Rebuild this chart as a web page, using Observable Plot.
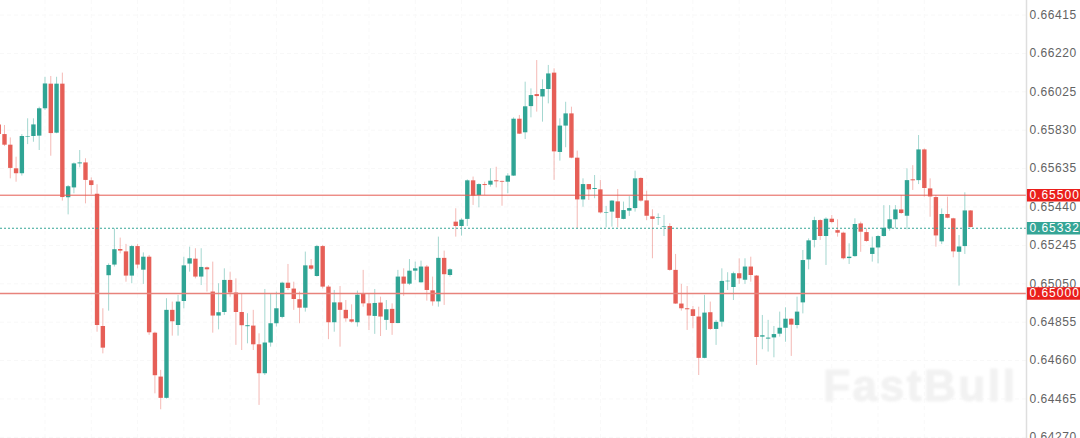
<!DOCTYPE html>
<html>
<head>
<meta charset="utf-8">
<script src="https://cdn.jsdelivr.net/npm/d3@7"></script>
<script src="https://cdn.jsdelivr.net/npm/@observablehq/plot@0.6"></script>
<style>
html,body{margin:0;padding:0;background:#fff;}
.wm text{letter-spacing:2.6px;filter:blur(1.2px);}
.tag text{letter-spacing:1px;}
</style>
</head>
<body>
<div id="chart"></div>
<script>
const firstIndex = -1;
const opens = [
.65857,.65808,.65754,.65634,.65609,.65795,.65798,.65800,.65939,.66064,
.65815,.66064,.65487,.65537,.65659,.65664,.65573,.65505,.64833,.65091,
.65145,.65224,.65212,.65089,.65239,.65119,.65185,.64799,.64576,.64468,
.64915,.64838,.64960,.65150,.65175,.65084,.65131,.65008,.64886,.64904,
.65067,.65003,.64904,.64832,.64835,.64740,.64593,.64749,.64847,.64879,
.65053,.65023,.64969,.64926,.65141,.65087,.65239,.65033,.64852,.64953,
.64915,.64867,.64852,.64999,.64948,.64884,.64952,.64864,.64920,.64848,
.65084,.65048,.65114,.65055,.65135,.65014,.64958,.65179,.65092,.65363,
.65341,.65377,.65573,.65498,.65554,.65551,.65573,.65570,.65566,.65597,
.65886,.65817,.65950,.66011,.65999,.66037,.66120,.65717,.65851,.65913,
.65688,.65476,.65554,.65529,.65527,.65409,.65414,.65466,.65377,.65419,
.65432,.65585,.65471,.65390,.65382,.65338,.65341,.65118,.64947,.64923,
.64918,.64881,.64671,.64903,.64818,.64855,.65060,.65031,.65101,.65068,
.65135,.65089,.64779,.64769,.64775,.64794,.64824,.64870,.64838,.64953,
.65171,.65270,.65371,.65290,.65378,.65320,.65307,.65178,.65188,.65354,
.65310,.65199,.65232,.65290,.65329,.65375,.65425,.65393,.65578,.65574,
.65730,.65532,.65488,.65263,.65402,.65380,.65210,.65239,.65420];
const closes = [
.65808,.65754,.65636,.65609,.65798,.65798,.65857,.65939,.66065,.65813,
.66064,.65488,.65543,.65659,.65664,.65575,.65549,.64838,.64723,.65143,
.65223,.65216,.65089,.65239,.65145,.65185,.64801,.64583,.64468,.64915,
.64857,.64957,.65141,.65177,.65084,.65133,.65121,.64886,.64903,.65067,
.65003,.64904,.64837,.64837,.64740,.64593,.64749,.64847,.64923,.65053,
.65026,.64970,.64926,.65141,.65124,.65239,.65033,.64852,.64953,.64915,
.64872,.64855,.64992,.64948,.64886,.64950,.64881,.64918,.64848,.65084,
.65048,.65114,.65126,.65135,.65016,.64958,.65179,.65096,.65121,.65341,
.65373,.65573,.65495,.65554,.65549,.65571,.65568,.65566,.65597,.65886,
.65810,.65949,.66006,.66001,.66037,.66116,.65720,.65851,.65913,.65688,
.65476,.65554,.65527,.65534,.65410,.65412,.65470,.65382,.65422,.65432,
.65583,.65470,.65393,.65377,.65385,.65341,.65118,.64947,.64923,.64918,
.64884,.64671,.64901,.64818,.64854,.65062,.65063,.65101,.65075,.65135,
.65092,.64777,.64786,.64774,.64792,.64824,.64870,.64840,.64906,.65168,
.65268,.65371,.65290,.65378,.65361,.65307,.65177,.65185,.65351,.65312,
.65265,.65231,.65290,.65332,.65375,.65425,.65407,.65574,.65573,.65730,
.65534,.65491,.65293,.65402,.65383,.65212,.65237,.65420,.65336];
const highs = [
.65862,.65854,.65791,.65693,.65808,.65888,.65888,.65947,.66099,.66103,
.66099,.66120,.65549,.65664,.65727,.65685,.65588,.65553,.64923,.65151,
.65329,.65282,.65250,.65245,.65250,.65207,.65194,.64804,.64610,.64974,
.64957,.64991,.65185,.65236,.65228,.65228,.65135,.65160,.65050,.65126,
.65109,.65075,.64999,.64898,.64915,.64796,.65021,.64999,.65008,.65058,
.65148,.65058,.65008,.65211,.65173,.65245,.65245,.65041,.65016,.65036,
.64965,.64943,.65013,.65118,.64999,.65021,.64982,.64965,.64948,.65118,
.65126,.65173,.65160,.65165,.65143,.65084,.65287,.65216,.65126,.65431,
.65380,.65578,.65592,.65558,.65566,.65634,.65642,.65571,.65609,.65893,
.65905,.66074,.66040,.66184,.66086,.66159,.66142,.65888,.65972,.65947,
.65724,.65583,.65554,.65600,.65575,.65443,.65473,.65529,.65465,.65493,
.65622,.65588,.65520,.65426,.65405,.65397,.65355,.65199,.65047,.65036,
.64935,.64931,.64991,.64957,.64864,.65126,.65106,.65109,.65177,.65177,
.65185,.65092,.64889,.64864,.64833,.64906,.64928,.64872,.64982,.65219,
.65278,.65388,.65375,.65385,.65397,.65375,.65312,.65253,.65380,.65363,
.65329,.65287,.65295,.65447,.65447,.65447,.65498,.65634,.65650,.65803,
.65735,.65583,.65498,.65430,.65490,.65383,.65295,.65512,.65422];
const lows = [
.65803,.65747,.65583,.65566,.65597,.65757,.65769,.65727,.65930,.65698,
.65812,.65470,.65400,.65507,.65639,.65456,.65502,.64804,.64694,.64911,
.65135,.65202,.65058,.65050,.65126,.65047,.64788,.64491,.64410,.64464,
.64784,.64784,.64923,.65109,.65075,.65041,.65008,.64799,.64816,.64889,
.64982,.64737,.64711,.64745,.64711,.64432,.64584,.64728,.64830,.64872,
.65016,.64915,.64847,.64906,.65118,.65084,.65024,.64766,.64804,.64728,
.64855,.64850,.64830,.64931,.64813,.64793,.64782,.64813,.64788,.64847,
.64986,.65041,.65067,.65053,.64962,.64936,.64931,.64940,.65084,.65287,
.65292,.65341,.65448,.65436,.65498,.65541,.65537,.65444,.65507,.65595,
.65808,.65783,.65893,.65922,.65871,.65964,.65575,.65673,.65741,.65685,
.65329,.65439,.65473,.65482,.65405,.65334,.65338,.65334,.65375,.65392,
.65414,.65465,.65371,.65177,.65346,.65290,.65114,.64945,.64911,.64813,
.64821,.64584,.64669,.64813,.64737,.64830,.65016,.64965,.65047,.65047,
.65058,.64635,.64715,.64703,.64674,.64779,.64753,.64681,.64821,.64897,
.65121,.65232,.65270,.65143,.65354,.65287,.65171,.65148,.65185,.65210,
.65261,.65160,.65151,.65287,.65317,.65329,.65402,.65324,.65524,.65554,
.65490,.65388,.65236,.65249,.65380,.65182,.65038,.65199,.65334];

const priceTicks = [.66415,.66220,.66025,.65830,.65635,.65440,.65245,.65050,.64855,.64660,.64465,.64270];
const gridIndices = [7,15,23,31,39,47,55,63,71,79,87,95,103,111,119,127,135,143,151,159];
const levels = [.65500,.65000];
const lastPrice = [.65332];
const watermark = ["FastBull"];

const candles = opens.map((o,k)=>({i:k+firstIndex,o,c:closes[k],h:highs[k],l:lows[k],up:closes[k]>=o}));
const RED="#e5574f", GREEN="#26a08f", TAGRED="#ea1f1c", TAGGREEN="#35a596";
const xDomain=[-0.691,176.66], tagFrom=176.82, tagTo=186.1;
const fmt=d3.format(".5f");

const chart = Plot.plot({
  width:1080,height:438,marginLeft:0,marginRight:54,marginTop:0,marginBottom:0,
  style:{fontFamily:"'Liberation Sans',Arial,sans-serif",fontSize:"12px",background:"#fff",letterSpacing:"0.55px"},
  x:{domain:xDomain,axis:null},
  y:{domain:[.64264,.66489],axis:null},
  marks:[
    Plot.ruleX(gridIndices,{stroke:"#f9f9f9",strokeDasharray:"4 3"}),
    Plot.ruleY(priceTicks,{stroke:"#f8f8f8",strokeDasharray:"4 3"}),
    Plot.text(watermark,{frameAnchor:"bottom-right",dx:-9,dy:-38,text:d=>d,fontSize:44,fontWeight:"bold",fill:"#f2f2f2",stroke:"#f5f5f5",strokeWidth:1.5,className:"wm"}),
    Plot.ruleX(candles,{x:"i",y1:"l",y2:"h",stroke:d=>d.up?GREEN:RED,strokeWidth:1,strokeOpacity:0.42}),
    Plot.ruleX(candles,{x:"i",y1:"o",y2:"c",stroke:d=>d.up?GREEN:RED,strokeWidth:4.4,strokeOpacity:0.95}),
    Plot.ruleY([levels[0]],{x1:xDomain[0],x2:xDomain[1],stroke:"#e55a52",strokeWidth:1}),
    Plot.ruleY([levels[1]],{x1:xDomain[0],x2:xDomain[1],stroke:"#e8837c",strokeWidth:1.5}),
    Plot.ruleY(lastPrice,{x1:xDomain[0],x2:xDomain[1],stroke:"#35a596",strokeWidth:1,strokeDasharray:"2 2"}),
    Plot.frame({anchor:"right",stroke:"#dedede",strokeWidth:1.5}),
    Plot.axisY(priceTicks,{anchor:"right",tickSize:0,tickPadding:3,tickFormat:fmt,label:null,color:"#636363",fill:"#636363"}),
    Plot.ruleY(levels,{x1:tagFrom,x2:tagTo,stroke:TAGRED,strokeWidth:12.5}),
    Plot.text(levels,{x:tagFrom,y:d=>d,text:fmt,textAnchor:"start",dx:2,fill:"#fff",fontWeight:500,className:"tag"}),
    Plot.ruleY(lastPrice,{x1:tagFrom,x2:tagTo,stroke:TAGGREEN,strokeWidth:12.5}),
    Plot.text(lastPrice,{x:tagFrom,y:d=>d,text:fmt,textAnchor:"start",dx:2,fill:"#fff",fontWeight:500,className:"tag"})
  ]
});
document.getElementById("chart").appendChild(chart);
</script>
</body>
</html>
